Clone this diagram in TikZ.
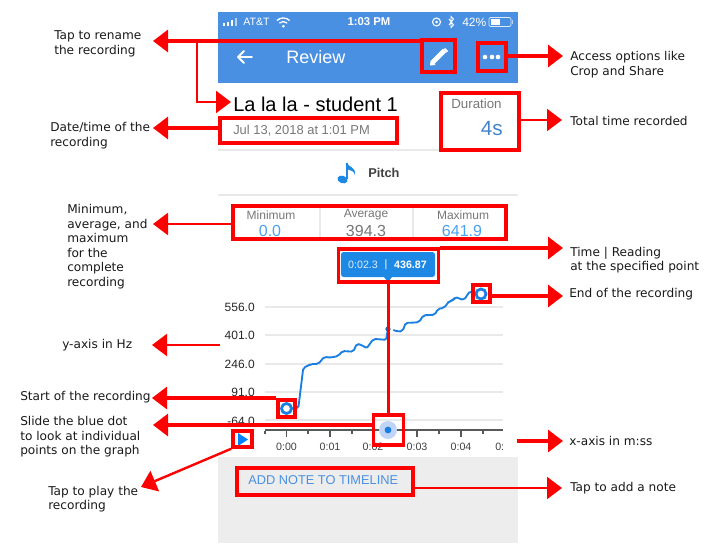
\documentclass[tikz,border=0pt]{standalone}
\usepackage{fontspec}
\setmainfont{DejaVu Sans}
\newfontfamily\uifont{Liberation Sans}
\usetikzlibrary{arrows.meta}
\definecolor{headerblue}{HTML}{4A90E2}
\definecolor{chipblue}{HTML}{1E88E5}
\definecolor{lineblue}{HTML}{1A7FE0}
\definecolor{valueblue}{HTML}{4AA3F0}
\definecolor{softgrey}{HTML}{E9E9E9}
\definecolor{textgrey}{HTML}{777777}
\definecolor{haloblue}{HTML}{C0D5F5}
\tikzset{
    %Define standard arrow tip
    >={Triangle[length=11.25pt,width=16.5pt]},
    %Define style for red boxes
    redbox/.style 2 args={
           rectangle,
           draw=red,
           line width=2.6pt,
           minimum width=#1*0.75pt,
           minimum height=#2*0.75pt,
           inner sep=0pt},
    %Define style for the notes round the screen
    note/.style={
           anchor=west,
           align=left,
           inner sep=0pt,
           font=\fontsize{9.1pt}{10.9pt}\selectfont,
           text=black!90!white},
    %Define style for texts of the screen
    ui/.style={
           inner sep=0pt,
           font=\uifont\fontsize{#1}{#1}\selectfont},
    yval/.style={
           ui=9pt,
           anchor=east,
           text=black!85!white},
    xval/.style={
           ui=8pt,
           text=black!75!white},
    gridline/.style={
           draw=softgrey,
           line width=1.1pt},
    % Define arrow style
    pil/.style={
           ->,
           draw=red,
           line width=2.3pt},
    thinpil/.style={
           pil,
           line width=1.8pt},
    ring/.style={
           draw=lineblue,
           line width=2.1pt,
           fill=white}
}
\begin{document}
\begin{tikzpicture}[x=0.75pt,y=-0.75pt]
\useasboundingbox (0,0) rectangle (721,557);
% screen
\fill[headerblue] (218,12) rectangle (518,83);
\fill[black!7!white] (218,457) rectangle (518,543);
\draw[gridline] (218,150) -- (518,150);
\draw[gridline] (218,195) -- (518,195);
% status bar
\foreach \x/\h/\c in {224/3/white,228/4/white,232/6/white,236/8/white!60!headerblue}
	\fill[\c] (\x-1.3,26) rectangle (\x+1.3,26-\h);
\node[ui=8pt,text=white,anchor=west] (carrier) at (243,22) {AT\&T};
\draw[white,line width=1pt] (276.9,20.6) arc (225:315:9);
\draw[white,line width=1pt] (279.4,23.1) arc (225:315:5.5);
\fill[white] (283.3,26.2) circle (1.5);
\node[ui=8.5pt,text=white,font=\uifont\fontsize{8.5pt}{8.5pt}\selectfont\bfseries] (clock) at (369,22) {1:03 PM};
\draw[white,line width=0.8pt] (436.5,22) circle (4);
\fill[white] (436.5,22) circle (1.5);
\draw[white,line width=0.7pt] (449,19) -- (453.5,25) -- (451,27.5) -- (451,16.5) -- (453.5,19) -- (449,25);
\node[ui=9pt,text=white,anchor=west] (charge) at (462,22) {42\%};
\draw[white!80!headerblue,line width=0.6pt,rounded corners=1pt] (489,17.5) rectangle (511,26.5);
\fill[white] (490.5,19) rectangle (500,25);
\fill[white!60!headerblue] (512,20) rectangle (513,24);
% header
\draw[white,line width=1.4pt,line cap=round,line join=round] (252,57) -- (238,57) (244,51) -- (238,57) -- (244,63);
\node[ui=13.5pt,text=white,anchor=west] (review) at (286,57) {Review};
\draw[white,line width=3.6pt] (432.5,62.5) -- (444.5,50.5);
\fill[white] (430,65.5) -- (430.6,60.4) -- (435.6,65) -- cycle;
\fill[white] (445,48) -- (448,51) -- (446.5,52.5) -- (443.5,49.5) -- cycle;
\foreach \x in {485,492,498}
	\fill[white] (\x,57) circle (2.3);
% title block
\node[ui=15pt,anchor=west,text=black] (title) at (233,104) {La la la - student 1};
\node[ui=9.7pt,anchor=west,text=textgrey] (date) at (233,130.5) {Jul 13, 2018 at 1:01 PM};
\node[ui=10pt,anchor=west,text=textgrey] (duration) at (451,103.5) {Duration};
\node[ui=15.5pt,anchor=east,text=headerblue!90!black] (seconds) at (503,128.5) {4s};
% pitch row
\fill[chipblue,rotate around={-20:(342.5,179.5)}] (342.5,179.5) ellipse (5.2 and 3.8);
\draw[chipblue,line width=1.4pt] (346.8,179) -- (346.8,163);
\fill[chipblue] (346.8,162) .. controls (348,168) and (356,166) .. (355,175) .. controls (354,170) and (350,171) .. (346.8,169) -- cycle;
\node[ui=9.6pt,anchor=west,text=black!75!white,font=\uifont\fontsize{9.6pt}{9.6pt}\selectfont\bfseries] (pitch) at (368,173) {Pitch};
% statistics
\draw[gridline] (320,207) -- (320,239);
\draw[gridline] (413,207) -- (413,239);
\node[ui=9pt,text=textgrey] (minlabel) at (271,215) {Minimum};
\node[ui=9pt,text=textgrey] (avglabel) at (366,215) {Average};
\node[ui=9pt,text=textgrey] (maxlabel) at (463,215) {Maximum};
\node[ui=12pt,text=valueblue] (minvalue) at (270,230.5) {0.0};
\node[ui=12pt,text=textgrey] (avgvalue) at (366,230.5) {394.3};
\node[ui=12pt,text=valueblue] (maxvalue) at (462,230.5) {641.9};
% graph
\foreach \y in {307,335,364,392,420}
	\draw[gridline] (265,\y) -- (503,\y);
\node[yval] (y556) at (255,307) {556.0};
\node[yval] (y401) at (255,335) {401.0};
\node[yval] (y246) at (255,364) {246.0};
\node[yval] (y91) at (255,392) {91.0};
\node[yval] (y64) at (255,421) {-64.0};
\draw[lineblue,line width=1.4pt,rounded corners=1.5pt] (286,408.3) -- (298.3,408.3) -- (303.3,367.7) -- (308.3,365.7) -- (310.7,364) -- (318.3,364) -- (324.3,356.7) -- (330,357.7) -- (338.3,356) -- (342.3,351) -- (353.3,351.7) -- (356.7,343.7) -- (361.7,345) -- (366.7,348.3) -- (373.3,339) -- (380.7,339.3) -- (386,340) -- (388,329);
\draw[lineblue,line width=1.4pt,rounded corners=1.5pt] (393.3,330) -- (398.3,331.7) -- (402.7,331) -- (405.7,322.7) -- (413.3,322.7) -- (419.3,322) -- (423.3,315.3) -- (435,314.7) -- (437.7,309) -- (444.3,307.7) -- (449.3,301) -- (452.7,300.7) -- (455.3,296.7) -- (460,299) -- (464,300) -- (470,291) -- (481,294);
\draw[lineblue!80!black,dotted,line width=0.7pt] (388,282) -- (388,329);
\fill[lineblue!80!black] (388,329) circle (2.6);
\draw[ring] (481,294) circle (5);
\draw[ring] (286.5,408.5) circle (5);
% reading chip
\fill[chipblue,rounded corners=2pt] (341,252) rectangle (435,277);
\fill[chipblue] (384,277) -- (392,277) -- (388,282) -- cycle;
\node[ui=8pt,text=white!85!chipblue] (chiptime) at (363,265) {0:02.3};
\node[ui=8pt,text=white] (chipbar) at (386,265) {|};
\node[ui=8pt,text=white,font=\uifont\fontsize{8pt}{8pt}\selectfont\bfseries] (chipvalue) at (410.5,265) {436.87};
% timeline
\draw[black!65!white,line width=0.9pt] (265,430) -- (503,430);
\foreach \x in {286.5,330,373,417,461}
	\draw[black!65!white,line width=0.8pt] (\x,431) -- (\x,437);
\foreach \x in {265,308,352,395,439,483}
	\draw[black!65!white,line width=0.8pt] (\x,431) -- (\x,433.5);
\node[xval] (t0) at (286.5,447) {0:00};
\node[xval] (t1) at (330,447) {0:01};
\node[xval] (t2) at (373,447) {0:02};
\node[xval] (t3) at (417,447) {0:03};
\node[xval] (t4) at (461,447) {0:04};
\node[xval,anchor=west] (t5) at (495,447) {0:};
\fill[haloblue] (388,430) circle (9);
\fill[lineblue] (388,430) circle (3.4);
\fill[blue!50!cyan] (238,433) -- (248,439.5) -- (238,446) -- cycle;
\node[ui=9.6pt,text=headerblue,anchor=west] (addnote) at (248,480) {ADD NOTE TO TIMELINE};
% red boxes
\node[redbox={33}{32}] (boxpencil) at (438.5,56) {};
\node[redbox={28}{28}] (boxdots) at (492,57) {};
\node[redbox={177}{25}] (boxdate) at (308.5,130.5) {};
\node[redbox={78}{57}] (boxduration) at (480,121.5) {};
\node[redbox={273}{33}] (boxstats) at (369.5,222.5) {};
\node[redbox={100}{33}] (boxchip) at (388.5,265.5) {};
\node[redbox={17}{17}] (boxend) at (481.5,293.5) {};
\node[redbox={17}{17}] (boxstart) at (286.5,408.5) {};
\node[redbox={30}{30}] (boxslider) at (388.5,430) {};
\node[redbox={19}{16}] (boxplay) at (242.5,439) {};
\node[redbox={176}{27}] (boxnote) at (325,481.5) {};
% notes on the left
\node[note] (noterename) at (54,44) {Tap to rename\\the recording};
\node[note] (notedate) at (50,135.5) {Date/time of the\\recording};
\node[note] (notestats) at (67,246.5) {Minimum,\\average, and\\maximum\\for the\\complete\\recording};
\node[note] (noteyaxis) at (62,345.5) {y-axis in Hz};
\node[note] (notestart) at (20,397.5) {Start of the recording};
\node[note] (noteslide) at (20,437) {Slide the blue dot\\to look at individual\\points on the graph};
\node[note] (noteplay) at (48,499) {Tap to play the\\recording};
% notes on the right
\node[note] (noteoptions) at (570,64.5) {Access options like\\Crop and Share};
\node[note] (notetotal) at (570,120.5) {Total time recorded};
\node[note] (notereading) at (570,260) {Time | Reading\\at the specified point};
\node[note] (noteend) at (569,294) {End of the recording};
\node[note] (notexaxis) at (569,440.5) {x-axis in m:ss};
\node[note] (noteadd) at (570,488.5) {Tap to add a note};
% arrow ends
\coordinate (tiprename) at (153,41);
\coordinate (elbowtitle) at (197,41);
\coordinate (tiptitle) at (231,102);
\coordinate (tipdate) at (153,128);
\coordinate (tipstats) at (153,224);
\coordinate (startyaxis) at (220,345);
\coordinate (tipyaxis) at (152,345);
\coordinate (tipstart) at (152,398);
\coordinate (tipslider) at (153,425);
\coordinate (tipplay) at (141,487);
\coordinate (tipoptions) at (563,56);
\coordinate (tiptotal) at (562,120);
\coordinate (tipreading) at (563,248);
\coordinate (tipend) at (563,296);
\coordinate (startxaxis) at (517,441);
\coordinate (tipxaxis) at (563,441);
\coordinate (tipadd) at (562,488);
% arrows
\draw[pil] (tiprename -| boxpencil.west) -- (tiprename);
\draw[thinpil] (elbowtitle) |- (tiptitle);
\draw[pil] (tipdate -| boxdate.west) -- (tipdate);
\draw[thinpil] (tipstats -| boxstats.west) -- (tipstats);
\draw[thinpil] (startyaxis) -- (tipyaxis);
\draw[pil] (tipstart -| boxstart.west) -- (tipstart);
\draw[pil] (tipslider -| boxslider.west) -- (tipslider);
\draw[thinpil] (boxplay.south west) -- (tipplay);
\draw[pil] (tipoptions -| boxdots.east) -- (tipoptions);
\draw[thinpil] (tiptotal -| boxduration.east) -- (tiptotal);
\draw[pil] (tipreading -| boxchip.east) -- (tipreading);
\draw[pil] (tipend -| boxend.east) -- (tipend);
\draw[pil] (startxaxis) -- (tipxaxis);
\draw[thinpil] (tipadd -| boxnote.east) -- (tipadd);
\draw[red,line width=1.6pt] (boxchip.south) -- (boxslider.north);
\end{tikzpicture}
\end{document}
